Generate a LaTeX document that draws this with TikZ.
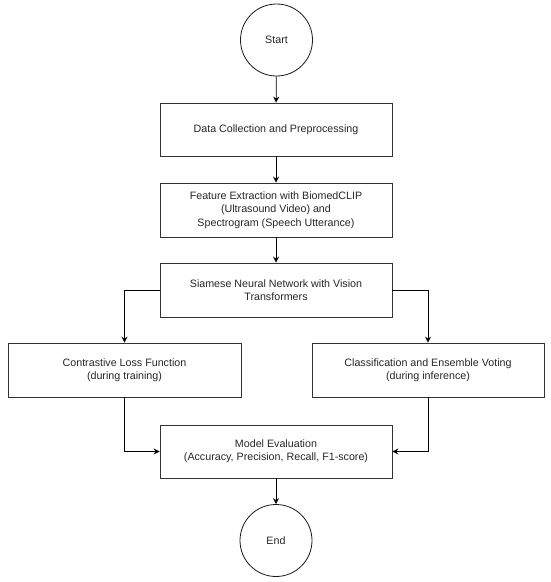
\documentclass[tikz,border=0pt]{standalone}
\usepackage{fontspec}
\setmainfont{Liberation Sans}
\usetikzlibrary{arrows.meta}
\begin{document}
\begin{tikzpicture}[x=1pt,y=-1pt,
  every node/.style={font=\fontsize{10.7}{13.3}\selectfont, text=black!85},
  procbox/.style={draw=black!80, line width=0.8pt, rectangle, inner sep=0pt, minimum width=232pt, minimum height=54pt, align=center},
  termcirc/.style={draw=black!90, line width=0.8pt, circle, inner sep=0pt, minimum size=72pt, align=center},
  flow/.style={draw=black, line width=0.8pt, -{Stealth[length=6pt,width=6pt,inset=2pt]}}]
\useasboundingbox (0,0) rectangle (550,582);
\node[termcirc] (start) at (276.5,40) {Start};
\node[procbox, minimum height=53pt] (data) at (276,129.5) {Data Collection and Preprocessing};
\node[procbox] (feat) at (276,210) {Feature Extraction with BiomedCLIP\\(Ultrasound Video) and\\Spectrogram (Speech Utterance)};
\node[procbox] (siam) at (276,290) {Siamese Neural Network with Vision\\Transformers};
\node[procbox, minimum width=233pt] (contr) at (124.5,370) {Contrastive Loss Function\\(during training)};
\node[procbox] (class) at (428,370) {Classification and Ensemble Voting\\(during inference)};
\node[procbox, minimum height=53pt] (model) at (276,451.5) {Model Evaluation\\(Accuracy, Precision, Recall, F1-score)};
\node[termcirc] (end) at (276,540.5) {End};
\draw[flow] (start) -- (data);
\draw[flow] (data) -- (feat);
\draw[flow] (feat) -- (siam);
\draw[flow] (siam.west) -| (contr.north);
\draw[flow] (siam.east) -| (class.north);
\draw[flow] (contr.south) |- (model.west);
\draw[flow] (class.south) |- (model.east);
\draw[flow] (model) -- (end);
\end{tikzpicture}
\end{document}
